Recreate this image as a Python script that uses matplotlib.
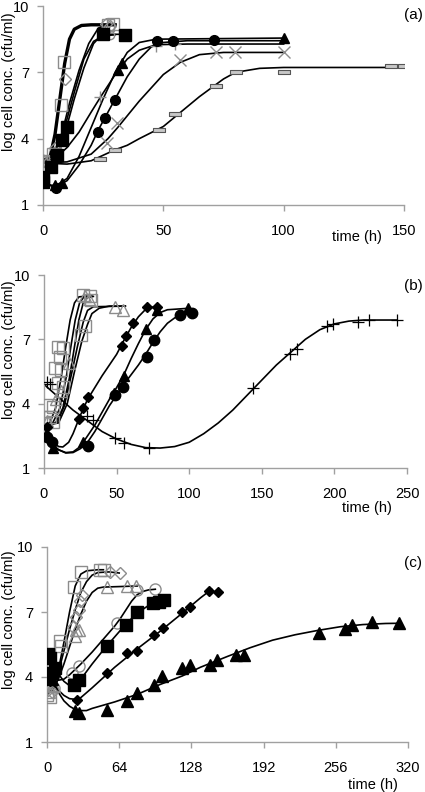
import matplotlib
matplotlib.use("Agg")
import matplotlib.pyplot as plt

plt.rcParams["font.family"] = ["Liberation Sans", "DejaVu Sans"]

# ---------------- panel (a) ----------------
A_SQO_T = [0, 4, 7.3, 8.7, 27, 29]
A_SQO_Y = [3.0, 3.3, 5.5, 7.45, 9.15, 9.2]
A_SQO_FT = [0, 3, 5, 7, 9, 11, 13, 16, 20, 30]
A_SQO_FY = [3.0, 3.2, 4.2, 5.8, 7.4, 8.5, 8.95, 9.12, 9.15, 9.15]

A_DIA_T = [0, 5, 9.0, 26, 28]
A_DIA_Y = [3.0, 3.6, 6.7, 9.2, 9.1]
A_DIA_FT = [0, 4, 8, 11, 15, 19, 23, 26, 30]
A_DIA_FY = [3.0, 3.2, 4.3, 5.6, 7.1, 8.3, 9.0, 9.13, 9.15]

A_CIRO_T = [0, 6, 28]
A_CIRO_Y = [3.1, 3.5, 8.7]
A_CIRO_FT = [0, 5, 9, 13, 17, 21, 25, 30]
A_CIRO_FY = [3.0, 3.4, 4.5, 6.1, 7.6, 8.4, 8.65, 8.7]

A_SQF_T = [0, 0, 3.4, 5.9, 7.9, 10.1, 24.9, 34]
A_SQF_Y = [2.05, 2.27, 2.7, 3.26, 3.94, 4.53, 8.73, 8.7]
A_SQF_FT = [0, 4, 7, 10, 13, 17, 21, 24, 28, 34]
A_SQF_FY = [2.2, 2.6, 3.5, 4.6, 5.8, 7.2, 8.3, 8.65, 8.72, 8.72]

A_TRIF_T = [5, 7.8, 31, 33, 100]
A_TRIF_Y = [1.9, 2.0, 7.1, 7.4, 8.55]
A_TRIF_FT = [0, 5, 10, 15, 20, 25, 30, 35, 40, 47, 100]
A_TRIF_FY = [2.0, 1.85, 2.2, 3.2, 4.5, 5.8, 7.0, 7.9, 8.35, 8.5, 8.55]

A_CIRF_T = [5.4, 22.9, 25.9, 30, 47.5, 54, 71]
A_CIRF_Y = [1.77, 4.3, 4.93, 5.74, 8.4, 8.4, 8.45]
A_CIRF_FT = [0, 5, 10, 15, 20, 23, 26, 30, 35, 40, 45, 50, 60, 100]
A_CIRF_FY = [2.0, 1.8, 2.1, 2.8, 3.7, 4.4, 5.0, 5.8, 6.8, 7.6, 8.15, 8.35, 8.43, 8.43]

A_X_T = [0, 26.5, 30.6, 57, 72, 79.6, 100]
A_X_Y = [3.0, 3.8, 4.7, 7.55, 7.9, 7.9, 7.9]
A_X_FT = [0, 10, 20, 27, 31, 40, 50, 57, 65, 75, 100]
A_X_FY = [2.9, 2.95, 3.3, 4.0, 4.5, 5.7, 6.9, 7.45, 7.8, 7.9, 7.9]

A_PL_T = [0, 23.7, 47, 55]
A_PL_Y = [3.0, 5.9, 8.2, 8.3]
A_PL_FT = [0, 5, 10, 15, 20, 24, 30, 35, 40, 47, 60, 100]
A_PL_FY = [3.0, 3.1, 3.6, 4.3, 5.2, 5.9, 6.9, 7.6, 8.0, 8.25, 8.28, 8.28]

A_RE_T = [23.7, 30, 48, 55, 72, 80, 100, 144.6, 150]
A_RE_Y = [3.07, 3.5, 4.4, 5.1, 6.4, 7.0, 7.0, 7.3, 7.28]
A_RE_FT = [0, 10, 20, 30, 35, 40, 50, 55, 60, 65, 70, 75, 80, 90, 100, 150]
A_RE_FY = [2.9, 2.85, 3.0, 3.5, 3.7, 4.0, 4.55, 5.0, 5.45, 5.9, 6.3, 6.7, 7.0, 7.18, 7.22, 7.22]

# ---------------- panel (b) ----------------
B_SQO_T = [0.7, 3.7, 4.1, 6.4, 6.4, 7.6, 9.9, 9.9, 11, 11.9, 13.1, 13.3, 25.7, 26.9, 28, 31.4, 32.6]
B_SQO_Y = [3.09, 3.94, 3.39, 3.86, 3.16, 5.65, 6.66, 4.95, 6.19, 5.57, 6.58, 4.79, 7.2, 9.07, 7.6, 9.0, 8.83]
B_S1_FT = [0, 4, 8, 12, 15, 18, 21, 24, 30]
B_S1_FY = [3.0, 3.1, 3.8, 5.3, 6.66, 7.9, 8.7, 8.98, 9.02]
B_S2_FT = [0, 6, 11, 15.5, 18.5, 21.5, 24.5, 27.5, 33]
B_S2_FY = [3.0, 3.1, 3.8, 5.3, 6.66, 7.9, 8.7, 8.98, 9.02]
B_S3_FT = [0, 8, 13, 17.5, 21, 24, 27, 30, 34]
B_S3_FY = [3.0, 3.1, 3.8, 5.2, 6.66, 7.9, 8.7, 8.95, 9.0]
B_S4_FT = [0, 9, 14, 19, 23, 27, 30, 34, 56]
B_S4_FY = [3.0, 3.1, 3.9, 5.4, 6.66, 7.8, 8.35, 8.52, 8.55]
B_S5_FT = [0, 10, 16, 21, 26, 30, 33, 38, 45, 56]
B_S5_FY = [3.0, 3.1, 4.0, 5.5, 6.9, 7.7, 8.2, 8.45, 8.55, 8.55]

B_TRIO_T = [2, 8, 12, 17, 28, 31, 48.9, 54.6]
B_TRIO_Y = [3.2, 4.2, 4.6, 5.9, 9.0, 8.9, 8.52, 8.37]

B_DIA_T = [2, 24.1, 26.6, 30.5, 53.5, 56.3, 61.5, 70.7, 77.6]
B_DIA_Y = [2.9, 3.27, 3.82, 4.33, 6.7, 7.16, 7.75, 8.52, 8.52]
B_DIA_FT = [0, 5, 10, 13, 17, 20, 25, 30, 35, 40, 45, 50, 55, 60, 65, 70, 75, 80]
B_DIA_FY = [2.8, 2.3, 2.0, 1.98, 2.2, 2.6, 3.45, 4.2, 4.75, 5.3, 5.8, 6.3, 6.95, 7.55, 8.05, 8.4, 8.5, 8.52]

B_TRIF_T = [2, 6.4, 27, 48, 55.1, 70, 77.6, 99.4]
B_TRIF_Y = [2.6, 1.92, 2.23, 4.5, 5.29, 7.5, 8.37, 8.45]
B_TRIF_FT = [0, 5, 10, 15, 20, 25, 30, 35, 40, 45, 50, 55, 60, 65, 70, 75, 80, 85, 100]
B_TRIF_FY = [2.7, 2.1, 1.85, 1.72, 1.75, 2.0, 2.5, 3.0, 3.6, 4.2, 4.75, 5.35, 6.1, 6.8, 7.45, 7.95, 8.25, 8.38, 8.45]

B_CIRF_T = [1.9, 5.3, 30.5, 48.9, 54.6, 70.7, 75.8, 93.7, 101.7]
B_CIRF_Y = [2.46, 2.23, 2.04, 4.4, 4.79, 6.19, 6.97, 8.13, 8.21]
B_CIRF_FT = [0, 5, 10, 15, 20, 25, 30, 35, 40, 45, 50, 55, 60, 65, 70, 75, 80, 85, 90, 95, 102]
B_CIRF_FY = [2.6, 2.15, 1.85, 1.7, 1.72, 1.9, 2.2, 2.7, 3.3, 3.9, 4.4, 4.9, 5.35, 5.8, 6.3, 6.85, 7.35, 7.75, 8.0, 8.12, 8.2]

B_PL_T = [1.8, 4, 29.8, 34, 48.9, 55.1, 72.5, 144.2, 169.4, 174.5, 194.7, 199.3, 216.5, 224, 243.3]
B_PL_Y = [5.03, 4.9, 3.43, 3.24, 2.38, 2.18, 1.92, 4.72, 6.32, 6.53, 7.62, 7.71, 7.82, 7.9, 7.9]
B_PL_FT = [0, 10, 20, 30, 40, 50, 60, 70, 80, 90, 100, 110, 120, 130, 140, 150, 160, 170,
           180, 190, 200, 210, 220, 243]
B_PL_FY = [4.9, 4.3, 3.7, 3.2, 2.7, 2.35, 2.1, 1.95, 1.93, 2.0, 2.2, 2.6, 3.1, 3.7, 4.4, 5.1, 5.8,
           6.4, 7.0, 7.45, 7.72, 7.85, 7.9, 7.9]

# ---------------- panel (c) ----------------
C_TRIF_T = [0, 4, 25, 28, 53.6, 71.3, 79.6, 95, 101.8, 119.5, 126.8, 144.5, 151, 167.5, 174.6,
            241, 264, 270.8, 288, 312]
C_TRIF_Y = [4.2, 3.9, 2.42, 2.35, 2.5, 2.88, 3.27, 3.65, 4.03, 4.42, 4.57, 4.57, 4.8, 5.03, 5.03,
            6.05, 6.2, 6.4, 6.56, 6.48]
C_TRIF_FT = [0, 5, 10, 15, 20, 25, 30, 35, 40, 60, 80, 100, 120, 136, 160, 180, 200, 220, 240,
             260, 280, 300, 312]
C_TRIF_FY = [4.2, 3.8, 3.3, 2.9, 2.65, 2.5, 2.45, 2.45, 2.55, 2.85, 3.2, 3.65, 4.05, 4.45, 4.95,
             5.35, 5.7, 5.95, 6.15, 6.32, 6.42, 6.47, 6.48]

C_DIAF_T = [0, 3, 26.5, 53.6, 70.8, 79.6, 95, 103.2, 119.5, 126.8, 143.9, 151.9]
C_DIAF_Y = [4.1, 3.8, 2.96, 4.19, 5.1, 5.18, 5.95, 6.25, 7.02, 7.22, 7.98, 7.93]
C_DIAF_FT = [0, 5, 10, 15, 20, 25, 30, 40, 60, 80, 100, 120, 136, 146]
C_DIAF_FY = [4.2, 3.8, 3.4, 3.15, 3.0, 2.97, 3.05, 3.5, 4.45, 5.3, 6.1, 6.95, 7.65, 8.05]

C_SQF_T = [0.5, 2.9, 4.4, 7.3, 23.6, 28, 53.1, 70.2, 79.6, 94.4, 99.7, 103.8]
C_SQF_Y = [5.07, 4.88, 4.19, 4.42, 3.65, 3.88, 5.41, 6.4, 7.02, 7.4, 7.48, 7.55]
C_SQF_FT = [0, 5, 10, 15, 20, 25, 30, 40, 50, 60, 70, 80, 90, 100, 104]
C_SQF_FY = [5.0, 4.6, 4.15, 3.8, 3.6, 3.6, 3.9, 4.6, 5.25, 5.85, 6.45, 6.95, 7.3, 7.5, 7.55]

C_CIRO_T = [0, 2, 6, 22.1, 28, 61.9, 79.6, 95.8]
C_CIRO_Y = [4.19, 3.9, 3.5, 4.19, 4.49, 6.48, 8.01, 8.04]
C_CIRO_FT = [0, 5, 10, 15, 20, 25, 30, 40, 50, 60, 65, 70, 75, 80, 85, 90, 96]
C_CIRO_FY = [4.3, 4.0, 3.85, 3.9, 4.1, 4.35, 4.6, 5.15, 5.75, 6.35, 6.7, 7.1, 7.5, 7.8, 7.95, 8.02, 8.05]

C_TRIO_T = [2, 6, 24.9, 25.9, 28, 53, 71.3, 79]
C_TRIO_Y = [3.3, 3.6, 5.9, 6.18, 6.18, 8.15, 8.2, 8.2]
C_TRIO_FT = [0, 5, 10, 15, 20, 25, 30, 35, 40, 45, 50, 80]
C_TRIO_FY = [3.3, 3.4, 3.9, 4.6, 5.4, 6.2, 6.9, 7.5, 7.9, 8.1, 8.15, 8.2]

C_SQO_T = [0, 3, 11.8, 12.7, 24.2, 30.1, 47.2, 50.1]
C_SQO_Y = [3.19, 3.1, 5.64, 5.41, 8.14, 8.85, 8.93, 8.96]
C_SQO_FT = [0, 5, 10, 15, 20, 25, 30, 35, 45, 50]
C_SQO_FY = [3.2, 3.4, 4.3, 5.6, 7.0, 8.2, 8.75, 8.9, 8.95, 8.95]

C_DIAO_T = [1, 4, 23, 25.9, 28, 28.9, 31, 56, 64.3]
C_DIAO_Y = [3.4, 3.3, 6.3, 6.76, 7.1, 7.52, 7.78, 8.85, 8.78]
C_DIAO_FT = [0, 5, 10, 15, 20, 25, 30, 35, 40, 45, 55, 64]
C_DIAO_FY = [3.3, 3.5, 4.2, 5.2, 6.2, 7.1, 7.9, 8.4, 8.7, 8.82, 8.85, 8.8]

GRAY = "#8c8c8c"
RECT = [(-1, -0.35), (1, -0.35), (1, 0.35), (-1, 0.35), (-1, -0.35)]

# marker styles
FILLED = dict(color="black", linestyle="none")
def open_mk(m, ms=7):
    return dict(marker=m, markersize=ms, markerfacecolor="none", markeredgecolor=GRAY,
                markeredgewidth=1.0, linestyle="none")


def style_axes(ax, xmax, xticks, tag, tx, ty):
    ax.set_xlim(0, xmax)
    ax.set_ylim(1, 10)
    ax.set_yticks([1, 4, 7, 10])
    ax.set_xticks(xticks)
    for s in ["top", "right"]:
        ax.spines[s].set_visible(False)
    for s in ["left", "bottom"]:
        ax.spines[s].set_color("#a0a0a0")
        ax.spines[s].set_linewidth(1.0)
        ax.spines[s].set_clip_on(False)
    ax.tick_params(axis="both", colors="#a0a0a0", labelcolor="black", labelsize=10.5,
                   length=4, width=1.0, direction="out")
    ax.tick_params(axis="x", pad=10)
    ax.tick_params(axis="y", pad=6)
    fig.text(tx / 425, 1 - ty / 792, "time (h)", fontsize=10.5, ha="center", va="center")
    fig.text(413 / 425, 1 - (ty - 222) / 792, tag, fontsize=11, ha="center", va="center")


def fit(ax, t, y, lw=1.2):
    ax.plot(t, y, color="black", lw=lw, solid_joinstyle="round", zorder=2)


fig = plt.figure(figsize=(4.25, 7.92), dpi=100)

# (a)
ax = fig.add_axes([43 / 425, 1 - 205 / 792, 361 / 425, 199 / 792])
fit(ax, A_RE_FT, A_RE_FY)
fit(ax, A_X_FT, A_X_FY)
fit(ax, A_PL_FT, A_PL_FY)
fit(ax, A_CIRF_FT, A_CIRF_FY)
fit(ax, A_TRIF_FT, A_TRIF_FY)
fit(ax, A_SQF_FT, A_SQF_FY)
fit(ax, A_CIRO_FT, A_CIRO_FY)
fit(ax, A_DIA_FT, A_DIA_FY)
fit(ax, A_SQO_FT, A_SQO_FY, lw=2.4)
ax.plot(A_RE_T, A_RE_Y, marker=RECT, markersize=9, markerfacecolor="#c8c8c8",
        markeredgecolor="#555555", markeredgewidth=0.8, linestyle="none", zorder=3)
ax.plot(A_X_T, A_X_Y, marker="x", markersize=8, color=GRAY, markeredgewidth=1.0,
        linestyle="none", zorder=3)
ax.plot(A_PL_T, A_PL_Y, marker="+", markersize=8, color=GRAY, markeredgewidth=1.0,
        linestyle="none", zorder=3)
ax.plot(A_SQO_T, A_SQO_Y, **open_mk("s", 8), zorder=3)
ax.plot(A_DIA_T, A_DIA_Y, **open_mk("D", 6), zorder=3)
ax.plot(A_CIRO_T, A_CIRO_Y, **open_mk("o", 6), zorder=3)
ax.plot(A_SQF_T, A_SQF_Y, marker="s", markersize=8, **FILLED, zorder=4)
ax.plot(A_TRIF_T, A_TRIF_Y, marker="^", markersize=7.5, **FILLED, zorder=4)
ax.plot(A_CIRF_T, A_CIRF_Y, marker="o", markersize=7, **FILLED, zorder=4)
style_axes(ax, 150, [0, 50, 100, 150], "(a)", 357, 237)

# (b)
ax = fig.add_axes([44 / 425, 1 - 468 / 792, 363 / 425, 193 / 792])
for ft, fy in [(B_S1_FT, B_S1_FY), (B_S2_FT, B_S2_FY), (B_S3_FT, B_S3_FY),
               (B_S4_FT, B_S4_FY), (B_S5_FT, B_S5_FY), (B_DIA_FT, B_DIA_FY),
               (B_TRIF_FT, B_TRIF_FY), (B_CIRF_FT, B_CIRF_FY), (B_PL_FT, B_PL_FY)]:
    fit(ax, ft, fy)
ax.plot(B_SQO_T, B_SQO_Y, **open_mk("s", 8), zorder=3)
ax.plot(B_TRIO_T, B_TRIO_Y, **open_mk("^", 8), zorder=3)
ax.plot(B_PL_T, B_PL_Y, marker="+", markersize=9, color="black", markeredgewidth=0.9,
        linestyle="none", zorder=3)
ax.plot(B_DIA_T, B_DIA_Y, marker="D", markersize=5.5, **FILLED, zorder=4)
ax.plot(B_TRIF_T, B_TRIF_Y, marker="^", markersize=7.5, **FILLED, zorder=4)
ax.plot(B_CIRF_T, B_CIRF_Y, marker="o", markersize=7.5, **FILLED, zorder=4)
style_axes(ax, 250, [0, 50, 100, 150, 200, 250], "(b)", 367, 508)

# (c)
ax = fig.add_axes([47 / 425, 1 - 742 / 792, 361 / 425, 195 / 792])
for ft, fy in [(C_TRIF_FT, C_TRIF_FY), (C_DIAF_FT, C_DIAF_FY), (C_SQF_FT, C_SQF_FY),
               (C_CIRO_FT, C_CIRO_FY), (C_TRIO_FT, C_TRIO_FY), (C_SQO_FT, C_SQO_FY),
               (C_DIAO_FT, C_DIAO_FY)]:
    fit(ax, ft, fy)
ax.plot(C_SQO_T, C_SQO_Y, **open_mk("s", 8), zorder=3)
ax.plot(C_DIAO_T, C_DIAO_Y, **open_mk("D", 6), zorder=3)
ax.plot(C_TRIO_T, C_TRIO_Y, **open_mk("^", 8), zorder=3)
ax.plot(C_CIRO_T, C_CIRO_Y, **open_mk("o", 8), zorder=3)
ax.plot(C_SQF_T, C_SQF_Y, marker="s", markersize=8, **FILLED, zorder=4)
ax.plot(C_DIAF_T, C_DIAF_Y, marker="D", markersize=5.5, **FILLED, zorder=4)
ax.plot(C_TRIF_T, C_TRIF_Y, marker="^", markersize=8, **FILLED, zorder=4)
style_axes(ax, 320, [0, 64, 128, 192, 256, 320], "(c)", 373, 785)

for yc in [82, 350, 620]:
    fig.text(9 / 425, 1 - yc / 792, "log cell conc. (cfu/ml)", rotation=90, fontsize=10.5,
             ha="center", va="center")

fig.savefig("out.png", dpi=100)
